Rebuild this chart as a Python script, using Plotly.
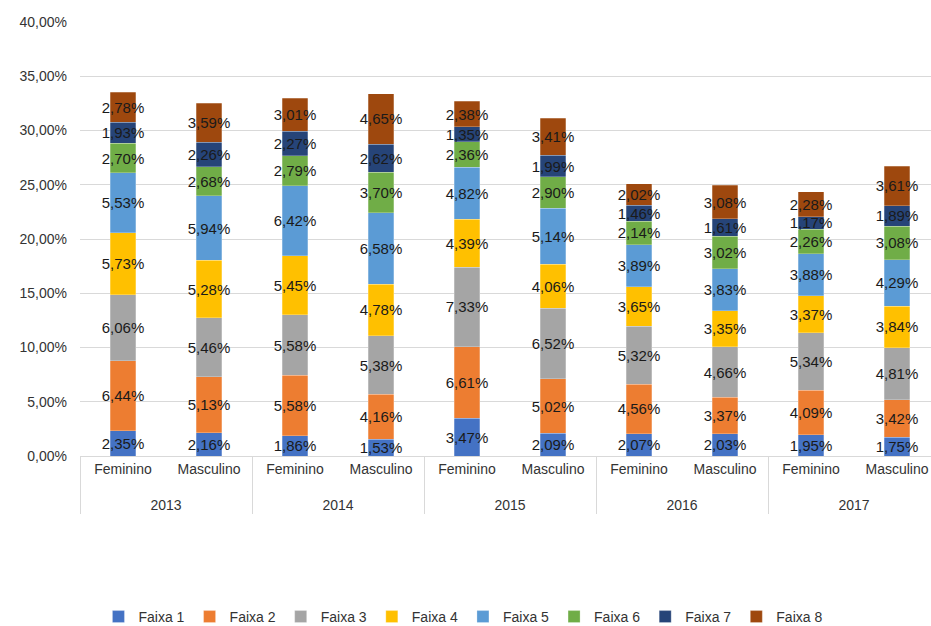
import plotly.graph_objects as go

years = ["2013", "2013", "2014", "2014", "2015", "2015", "2016", "2016", "2017", "2017"]
sexes = ["Feminino", "Masculino"] * 5

series_names = ["Faixa 1", "Faixa 2", "Faixa 3", "Faixa 4", "Faixa 5", "Faixa 6", "Faixa 7", "Faixa 8"]

faixa1 = [2.35, 2.16, 1.86, 1.53, 3.47, 2.09, 2.07, 2.03, 1.95, 1.75]
faixa2 = [6.44, 5.13, 5.58, 4.16, 6.61, 5.02, 4.56, 3.37, 4.09, 3.42]
faixa3 = [6.06, 5.46, 5.58, 5.38, 7.33, 6.52, 5.32, 4.66, 5.34, 4.81]
faixa4 = [5.73, 5.28, 5.45, 4.78, 4.39, 4.06, 3.65, 3.35, 3.37, 3.84]
faixa5 = [5.53, 5.94, 6.42, 6.58, 4.82, 5.14, 3.89, 3.83, 3.88, 4.29]
faixa6 = [2.70, 2.68, 2.79, 3.70, 2.36, 2.90, 2.14, 3.02, 2.26, 3.08]
faixa7 = [1.93, 2.26, 2.27, 2.62, 1.35, 1.99, 1.46, 1.61, 1.17, 1.89]
faixa8 = [2.78, 3.59, 3.01, 4.65, 2.38, 3.41, 2.02, 3.08, 2.28, 3.61]

series_values = [faixa1, faixa2, faixa3, faixa4, faixa5, faixa6, faixa7, faixa8]
colors = ["#4472C4", "#ED7D31", "#A5A5A5", "#FFC000", "#5B9BD5", "#70AD47", "#264478", "#9E480E"]

# year labels pushed one line lower to mimic the reference spacing
year_labels = ["<br>" + y for y in years]

fig = go.Figure()
for name, vals, col in zip(series_names, series_values, colors):
    fig.add_trace(go.Bar(
        x=[year_labels, sexes],
        y=vals,
        name=name,
        marker=dict(color=col, line=dict(color="rgba(255,255,255,0.5)", width=0.5)),
        texttemplate="%{y:.2f}%",
        textposition="inside",
        insidetextanchor="middle",
        constraintext="none",
        textangle=0,
        textfont=dict(family="Liberation Sans, Arial, sans-serif", size=15, color="#1a1a1a"),
        hoverinfo="skip",
    ))

fig.update_layout(
    barmode="stack",
    bargap=0.7,
    width=931,
    height=626,
    margin=dict(l=80, r=0, t=22, b=170),
    paper_bgcolor="white",
    plot_bgcolor="white",
    separators=",.",
    font=dict(family="Liberation Sans, Arial, sans-serif", size=14, color="#333333"),
    legend=dict(
        orientation="h",
        x=0.45, xanchor="center",
        yref="container",
        y=0.0144, yanchor="middle",
        font=dict(size=14, color="#333333"),
        traceorder="normal",
        itemwidth=30,
    ),
    showlegend=True,
)

fig.update_xaxes(
    type="multicategory",
    range=[-0.5, -0.5 + 851 / 86],
    showline=True,
    linecolor="#d9d9d9",
    linewidth=1,
    dividercolor="#d9d9d9",
    dividerwidth=1,
    ticks="outside",
    ticklen=9,
    tickcolor="rgba(0,0,0,0)",
    tickfont=dict(size=14, color="#333333"),
    showgrid=False,
)
fig.update_yaxes(
    range=[0, 40],
    dtick=5,
    tickformat=".2f",
    ticksuffix="%",
    showgrid=True,
    gridcolor="#d9d9d9",
    gridwidth=1,
    zeroline=False,
    showline=False,
    ticklabelstandoff=12,
    tickfont=dict(size=14, color="#333333"),
)

fig.write_html("out.html")
